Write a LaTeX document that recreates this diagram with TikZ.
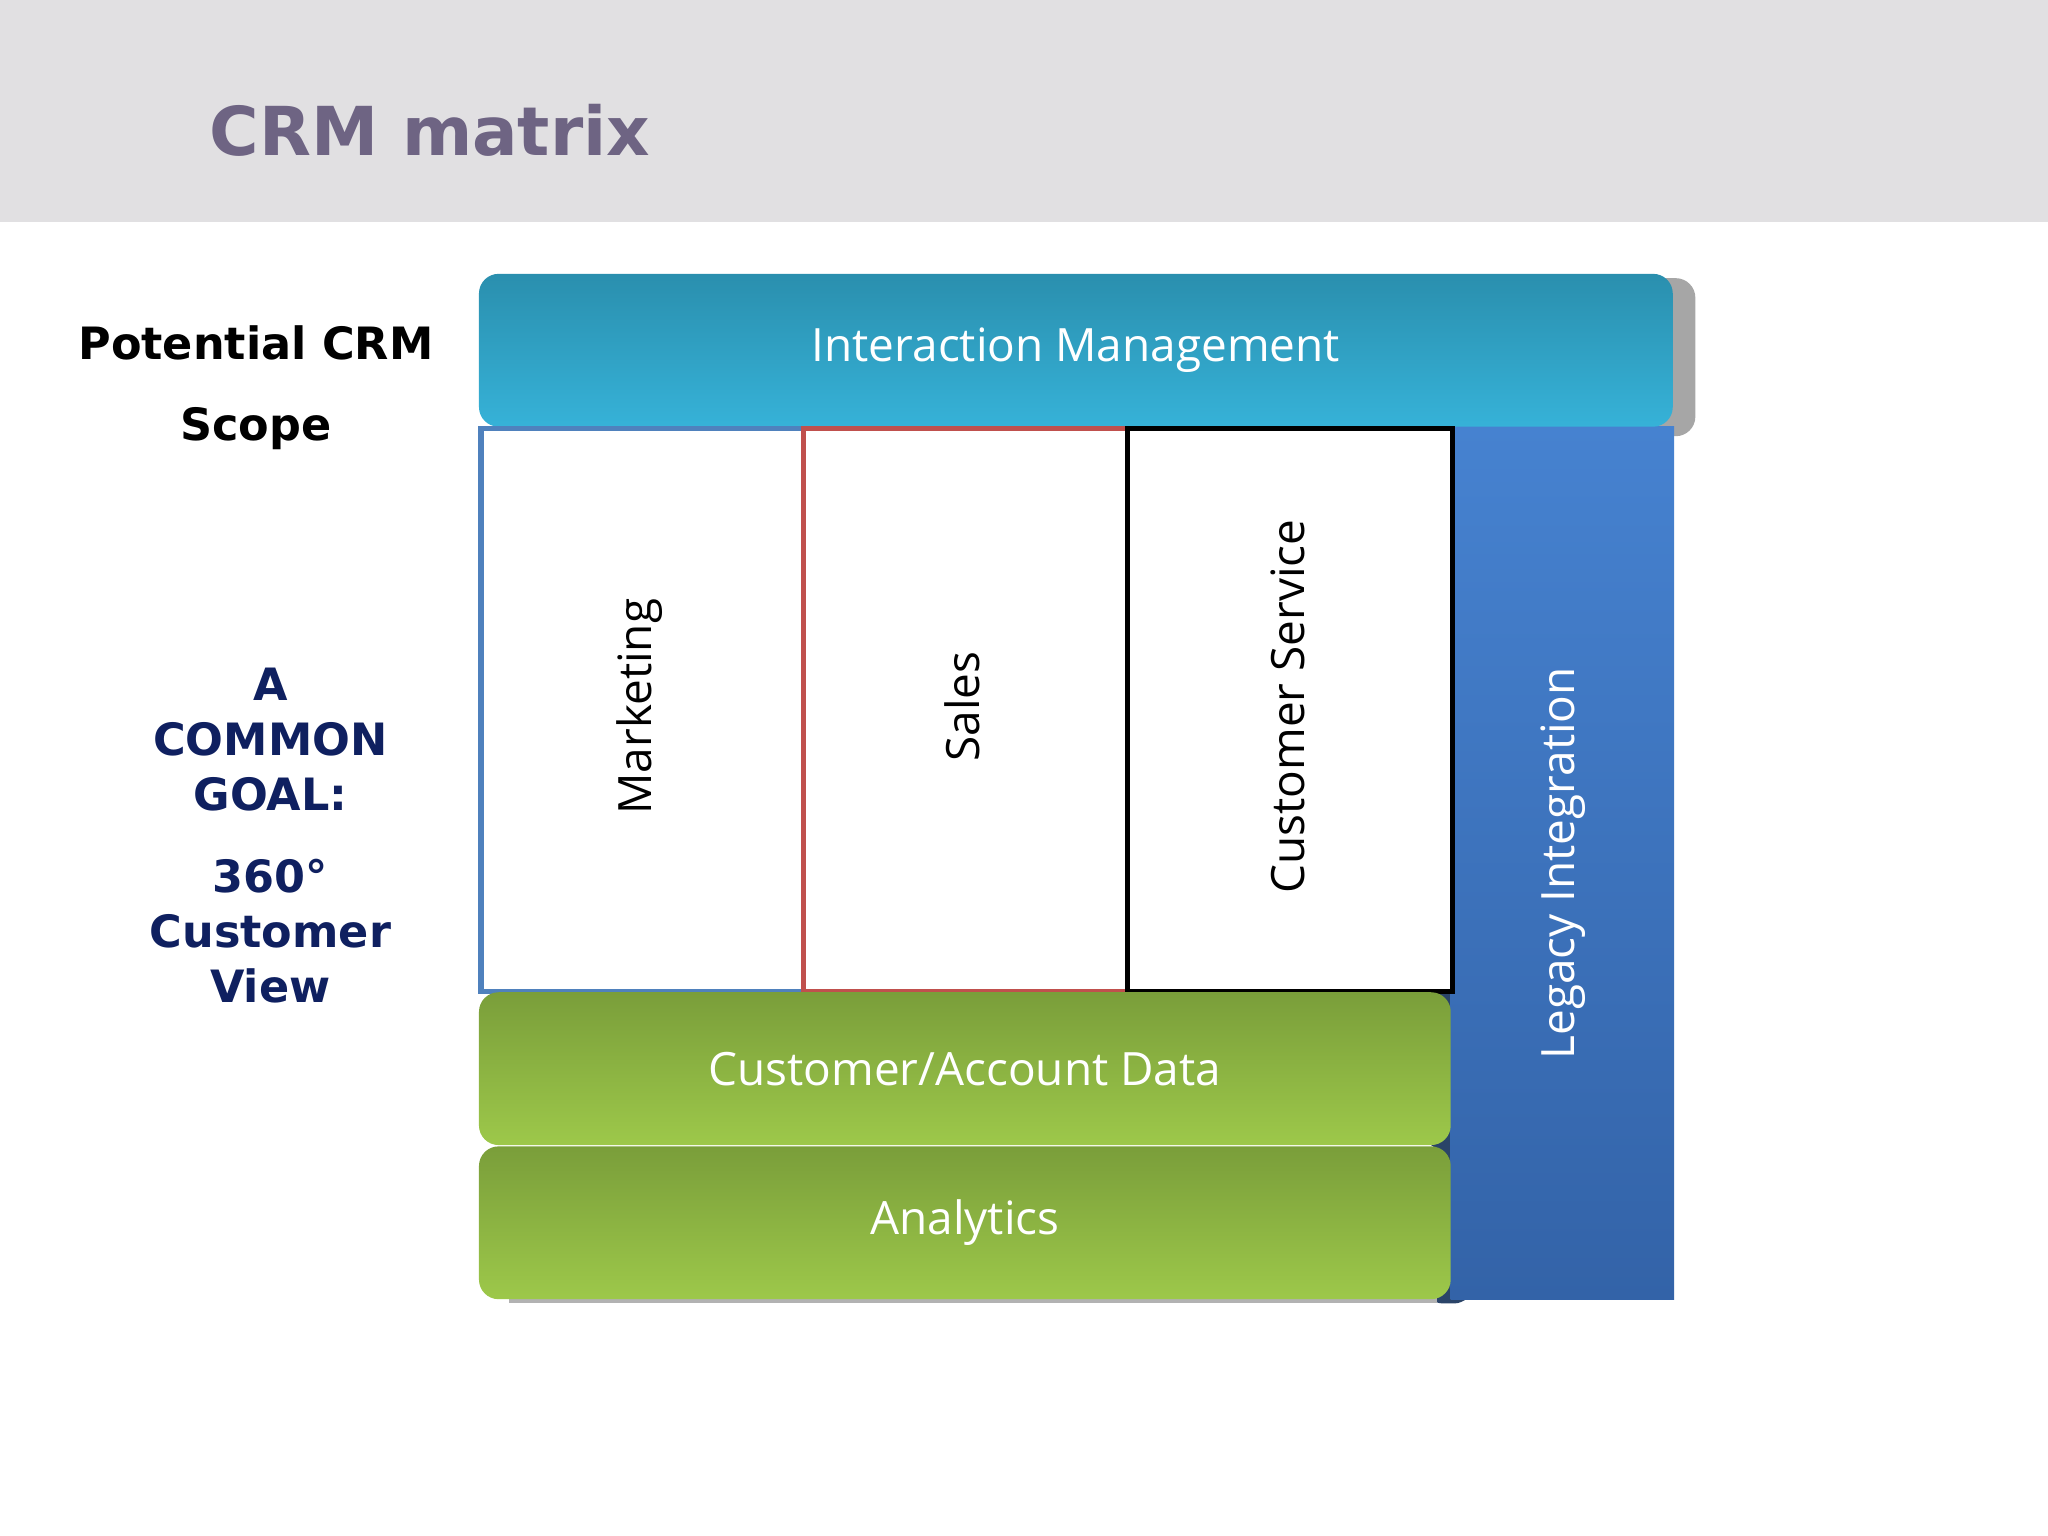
\documentclass[tikz,border=0pt]{standalone}
\usepackage{fontspec}
\setmainfont{Open Sans}
\newfontfamily\headfont{DejaVu Sans}
\usetikzlibrary{positioning}
\definecolor{hdrgray}{HTML}{E1E0E2}
\definecolor{titlec}{HTML}{6E6483}
\definecolor{navyc}{HTML}{0F2060}
\definecolor{shadowc}{HTML}{2A4468}
\tikzset{
  bar/.style={rounded corners=0.15cm, text=white, font=\fontsize{10}{12}\selectfont},
  col/.style={fill=white, line width=1.2pt, text=black, font=\fontsize{10}{12}\selectfont},
  side/.style={font=\headfont\bfseries\fontsize{9.7}{12}\selectfont, align=center}
}
\begin{document}
\begin{tikzpicture}
\useasboundingbox (0,0) rectangle (15.68,11.76);
\fill[hdrgray] (0,10.06) rectangle (15.68,11.76);
\node[anchor=west, inner sep=0, text=titlec, font=\headfont\bfseries\fontsize{14.7}{17}\selectfont] (title) at (1.60,10.76) {CRM matrix};

% shadows
\fill[gray!70, rounded corners=0.15cm] (11.5,8.42) rectangle (12.98,9.63);
\fill[shadowc, rounded corners=0.15cm] (10.9,2.96) rectangle (11.28,4.15);
\fill[shadowc, rounded corners=0.15cm] (10.9,1.78) rectangle (11.28,2.97);
\fill[gray!60] (3.9,1.78) rectangle (11.0,1.84);

% legacy
\node[draw=none, top color={rgb,255:red,70;green,130;blue,208}, bottom color={rgb,255:red,51;green,99;blue,168},
  minimum width=1.71cm, minimum height=6.68cm, inner sep=0, anchor=north west] (leg) at (11.10,8.50) {};
\node[rotate=90, text=white, font=\fontsize{10}{12}\selectfont] (legt) at (11.97,5.15) {Legacy Integration};

% interaction
\node[bar, top color={rgb,255:red,42;green,143;blue,174}, bottom color={rgb,255:red,54;green,178;blue,216},
  minimum width=9.14cm, minimum height=1.17cm, anchor=north west, inner sep=0] (im) at (3.66,9.67) {Interaction Management};

% columns
\node[col, draw={rgb,255:red,79;green,129;blue,189}, minimum width=2.47cm, minimum height=4.31cm, anchor=north west, inner sep=0] (mk) at (3.66,8.50) {};
\node[col, draw={rgb,255:red,192;green,80;blue,77}, minimum width=2.48cm, minimum height=4.31cm, anchor=north west, inner sep=0] (sl) at (6.13,8.50) {};
\node[col, draw=black, minimum width=2.49cm, minimum height=4.31cm, anchor=north west, inner sep=0] (cs) at (8.61,8.50) {};
\node[rotate=90, font=\fontsize{10}{12}\selectfont] at (4.90,6.35) {Marketing};
\node[rotate=90, font=\fontsize{10}{12}\selectfont] at (7.37,6.35) {Sales};
\node[rotate=90, font=\fontsize{10}{12}\selectfont] at (9.86,6.35) {Customer Service};

% data bars
\node[bar, top color={rgb,255:red,122;green,158;blue,58}, bottom color={rgb,255:red,157;green,200;blue,74},
  minimum width=7.44cm, minimum height=1.17cm, anchor=north west, inner sep=0] (cad) at (3.66,4.17) {Customer/Account Data};
\node[bar, top color={rgb,255:red,122;green,158;blue,58}, bottom color={rgb,255:red,157;green,200;blue,74},
  minimum width=7.44cm, minimum height=1.17cm, anchor=north west, inner sep=0] (an) at (3.66,2.99) {Analytics};

% side texts
\node[side] (scope) at (1.96,8.79) {Potential CRM\\[0.2cm]Scope};
\node[side, text=navyc] (goal) at (2.07,6.10) {A\\COMMON\\GOAL:};
\node[side, text=navyc] (view) at (2.07,4.63) {360°\\Customer\\View};
\end{tikzpicture}
\end{document}
